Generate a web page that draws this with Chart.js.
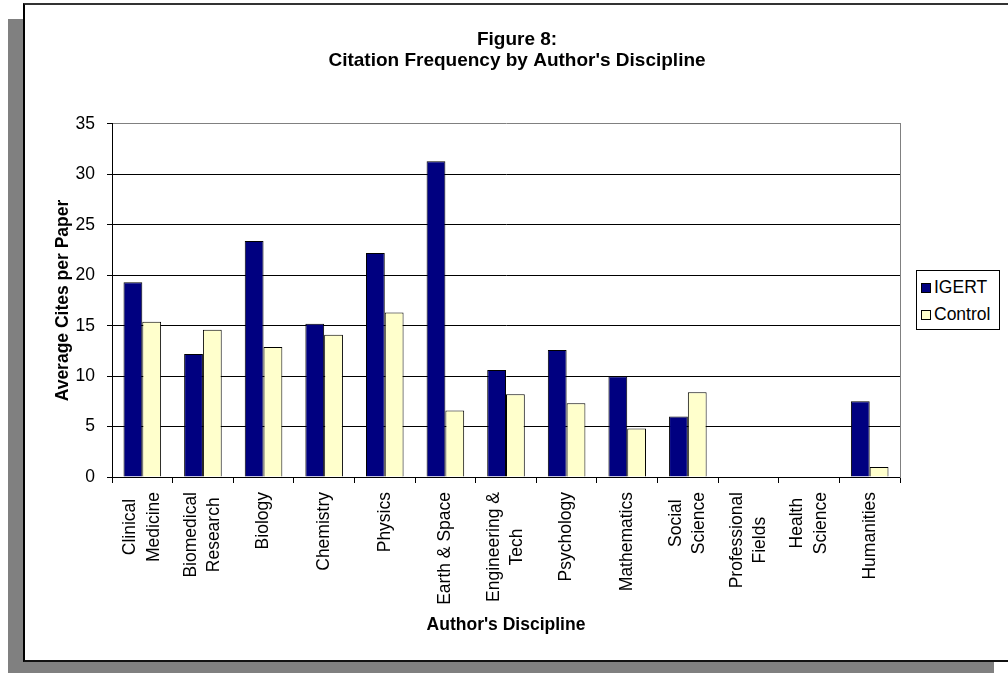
<!DOCTYPE html>
<html>
<head>
<meta charset="utf-8">
<script src="https://cdn.jsdelivr.net/npm/chart.js@4"></script>
<style>
  html, body { margin: 0; padding: 0; background: #fff; overflow: hidden; }
  body { width: 1008px; height: 673px; position: relative; font-family: "Liberation Sans", Arial, sans-serif; }
  .shadow { position: absolute; left: 8px; top: 19px; width: 986px; height: 660px; background: #808080; }
  .frame { position: absolute; left: 23px; top: 3px; width: 1000px; height: 655px; background: #fff;
           border-top: 2px solid #333; border-left: 2px solid #000; border-bottom: 2px solid #111; }
  #chart { position: absolute; left: 26px; top: 5px; }
  #legend { position: absolute; left: 916px; top: 270px; width: 84px; height: 60px; border: 1px solid #000;
            background: #fff; font-size: 17.5px; color: #000; box-sizing: border-box; padding: 3px 0 0 4px; }
  #legend div { height: 27px; line-height: 27px; white-space: nowrap; }
  #legend span { display: inline-block; width: 8px; height: 8px; border: 1px solid #000; margin-right: 3px; vertical-align: 0px; }
</style>
</head>
<body>
<div class="shadow"></div>
<div class="frame"></div>
<canvas id="chart" width="982" height="655"></canvas>
<div id="legend"></div>
<script>
const categories = [
  ["Clinical", "Medicine"], ["Biomedical", "Research"], "Biology", "Chemistry", "Physics",
  "Earth & Space", ["Engineering &", "Tech"], "Psychology", "Mathematics", ["Social", "Science"],
  ["Professional", "Fields"], ["Health", "Science"], "Humanities"
];
const igert = [19.3, 12.2, 23.4, 15.2, 22.2, 31.3, 10.6, 12.6, 10.0, 6.0, 0, 0, 7.5];
const control = [15.4, 14.6, 12.9, 14.1, 16.3, 6.6, 8.2, 7.3, 4.8, 8.4, 0, 0, 1.0];
const seriesNames = ["IGERT", "Control"];
const seriesColors = ["#000080", "#FFFFCC"];

const fontFamily = '"Liberation Sans", Arial, sans-serif';

// two-line category labels: center the block on the tick, lines centered on each other
const centerLabels = {
  id: "centerLabels",
  beforeDraw(chart) {
    const scale = chart.scales.x;
    const items = scale.getLabelItems(chart.chartArea);
    const c = chart.ctx;
    items.forEach((it) => {
      if (!Array.isArray(it.label) || it._centered) return;
      c.save();
      c.font = it.font.string;
      const maxW = Math.max(...it.label.map((t) => c.measureText(t).width));
      c.restore();
      it.options.translation[0] -= ((it.label.length - 1) * it.font.lineHeight) / 2;
      it.options.translation[1] += maxW / 2;
      it.options.textAlign = "center";
      it._centered = true;
    });
  },
};

const zeroBorder = (c) => (c.raw === 0 ? 0 : 1);

const ctx = document.getElementById("chart");

const chart = new Chart(ctx, {
  type: "bar",
  data: {
    labels: categories,
    datasets: [
      {
        label: seriesNames[0],
        data: igert,
        backgroundColor: seriesColors[0],
        borderColor: "#000",
        borderWidth: zeroBorder,
        borderSkipped: "bottom",
      },
      {
        label: seriesNames[1],
        data: control,
        backgroundColor: seriesColors[1],
        borderColor: "#000",
        borderWidth: zeroBorder,
        borderSkipped: "bottom",
      },
    ],
  },
  options: {
    responsive: false,
    animation: false,
    events: [],
    datasets: {
      bar: { barPercentage: 1, categoryPercentage: 0.62 },
    },
    layout: { padding: 0 },
    plugins: {
      legend: { display: false },
      tooltip: { enabled: false },
      title: {
        display: true,
        text: ["Figure 8:", "Citation Frequency by Author's Discipline"],
        color: "#000",
        font: { family: fontFamily, size: 19, weight: "bold", lineHeight: 1.105 },
        padding: { top: 24, bottom: 53 },
      },
    },
    scales: {
      x: {
        afterFit: (scale) => { scale.height = 183; },
        grid: {
          display: true,
          offset: true,
          drawOnChartArea: false,
          drawTicks: true,
          tickLength: 6,
          color: "#000",
        },
        border: { display: true, color: "#000", width: 1 },
        ticks: {
          color: "#000",
          autoSkip: false,
          maxRotation: 90,
          minRotation: 90,
          padding: 9,
          font: { family: fontFamily, size: 17.5, lineHeight: 1.33 },
        },
        title: {
          display: true,
          text: "Author's Discipline",
          color: "#000",
          font: { family: fontFamily, size: 17.5, weight: "bold" },
          padding: { top: 0, bottom: 24 },
        },
      },
      y: {
        min: 0,
        max: 35,
        afterFit: (scale) => { scale.width = 86; },
        grid: {
          color: (c) => (c.tick && c.tick.value === 35 ? "#808080" : "#000"),
          tickColor: "#000",
          tickLength: 5,
          lineWidth: 1,
        },
        border: { display: true, color: "#000", width: 1 },
        ticks: {
          stepSize: 5,
          color: "#000",
          padding: 12,
          font: { family: fontFamily, size: 17.5 },
        },
        title: {
          display: true,
          text: "Average Cites per Paper",
          color: "#000",
          font: { family: fontFamily, size: 17.5, weight: "bold" },
          padding: { top: 27, bottom: 0 },
        },
      },
      // empty right-hand scale: keeps room for the legend and draws the plot's right edge
      edge: {
        type: "linear",
        position: "right",
        afterFit: (scale) => { scale.width = 108; },
        grid: { display: false },
        ticks: { display: false },
        border: { display: true, color: "#808080", width: 1 },
      },
    },
  },
  plugins: [centerLabels],
});

// legend box built from the chart's datasets
const legendEl = document.getElementById("legend");
chart.data.datasets.forEach((ds) => {
  const row = document.createElement("div");
  const sw = document.createElement("span");
  sw.style.background = ds.backgroundColor;
  row.appendChild(sw);
  row.appendChild(document.createTextNode(ds.label));
  legendEl.appendChild(row);
});
</script>
</body>
</html>
